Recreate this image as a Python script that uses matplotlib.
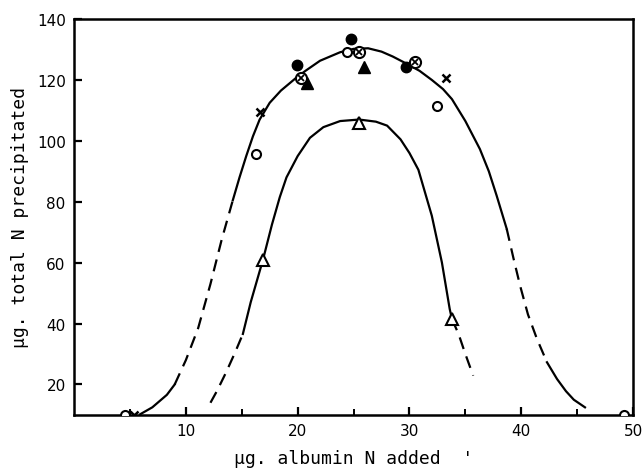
import matplotlib.pyplot as plt

# upper curve (solid / dashed pieces)
up_tail_l_x = [5.9, 7.0, 8.3, 9.0]
up_tail_l_y = [10.2, 12.5, 16.6, 20.0]
up_dash_l_x = [9.0, 10.0, 11.1, 12.2, 13.2, 14.2]
up_dash_l_y = [20.0, 28.0, 38.5, 53.0, 67.5, 80.5]
up_main_x = [14.2, 14.8, 15.4, 16.0, 16.6, 17.5, 18.5, 19.8, 20.7, 22.0, 23.8, 25.0,
             26.3, 27.5, 28.5, 29.5, 30.9, 32.0, 33.0, 33.8, 35.0, 36.3, 37.1, 37.8, 38.7]
up_main_y = [80.5, 88.0, 95.0, 101.5, 107.0, 112.5, 116.5, 120.5, 123.0, 126.3, 129.1, 130.2,
             130.4, 129.3, 127.7, 125.8, 123.0, 120.0, 117.0, 113.7, 106.5, 97.3, 90.0, 82.0, 71.1]
up_dash_r_x = [38.7, 39.3, 39.9, 40.6, 41.4, 42.3]
up_dash_r_y = [71.1, 61.5, 52.4, 43.0, 35.0, 27.3]
up_tail_r_x = [42.3, 43.2, 44.0, 44.7, 45.7]
up_tail_r_y = [27.3, 21.8, 17.8, 15.0, 12.5]

# lower curve
lo_dash_l_x = [12.2, 12.8, 13.6, 14.4, 15.1]
lo_dash_l_y = [14.0, 18.0, 24.0, 30.5, 36.6]
lo_main_x = [15.1, 15.8, 16.9, 17.7, 18.4, 19.0, 20.0, 21.1, 22.3, 23.8, 25.5, 27.0,
             28.0, 29.2, 30.0, 30.8, 32.0, 32.9, 33.6, 33.8]
lo_main_y = [36.6, 47.0, 61.0, 72.5, 81.5, 88.0, 95.0, 101.0, 104.5, 106.5, 107.0, 106.3,
             105.0, 100.5, 96.0, 90.5, 75.4, 60.1, 44.8, 41.5]
lo_dash_r_x = [33.8, 34.4, 35.0, 35.7]
lo_dash_r_y = [41.5, 36.5, 30.0, 22.9]

# points
open_circle_x = [4.6, 16.3, 24.4, 32.5, 49.2]
open_circle_y = [10.0, 95.6, 129.1, 111.3, 10.0]
filled_circle_x = [19.9, 24.8, 29.7]
filled_circle_y = [125.0, 133.4, 124.1]
cross_x = [5.4, 16.6, 33.3]
cross_y = [10.0, 109.4, 120.6]
otimes_x = [20.3, 25.5, 30.5]
otimes_y = [120.5, 129.3, 126.0]
open_tri_x = [16.9, 25.5, 33.8]
open_tri_y = [60.9, 105.8, 41.5]
filled_tri_x = [20.8, 25.9]
filled_tri_y = [119.0, 124.1]

xticks = [10, 20, 30, 40, 50]
yticks = [20, 40, 60, 80, 100, 120, 140]

fig = plt.figure(figsize=(6.44, 4.77), dpi=100)
ax = fig.add_axes([0.115, 0.128, 0.868, 0.83])

lw = 1.6
dash = (0, (5.5, 3.5))
ax.plot(up_tail_l_x, up_tail_l_y, color='black', lw=lw)
ax.plot(up_dash_l_x, up_dash_l_y, color='black', lw=lw, linestyle=dash)
ax.plot(up_main_x, up_main_y, color='black', lw=lw)
ax.plot(up_dash_r_x, up_dash_r_y, color='black', lw=lw, linestyle=dash)
ax.plot(up_tail_r_x, up_tail_r_y, color='black', lw=lw)
ax.plot(lo_dash_l_x, lo_dash_l_y, color='black', lw=lw, linestyle=dash)
ax.plot(lo_main_x, lo_main_y, color='black', lw=lw)
ax.plot(lo_dash_r_x, lo_dash_r_y, color='black', lw=lw, linestyle=dash)

ax.plot(filled_tri_x, filled_tri_y, '^', color='black', ms=8, zorder=3)
ax.plot(open_circle_x, open_circle_y, 'o', mfc='white', mec='black', mew=1.5, ms=6.5, zorder=4)
ax.plot(filled_circle_x, filled_circle_y, 'o', color='black', ms=7.5, zorder=4)
ax.plot(cross_x, cross_y, 'x', color='black', mew=1.8, ms=5.5, zorder=4)
ax.plot(otimes_x, otimes_y, 'o', mfc='white', mec='black', mew=1.5, ms=8, zorder=5)
ax.plot(otimes_x, otimes_y, 'x', color='black', mew=1.3, ms=4.5, zorder=6)
ax.plot(open_tri_x, open_tri_y, '^', mfc='white', mec='black', mew=1.5, ms=8.5, zorder=5)

ax.set_xlim(0, 50)
ax.set_ylim(10, 140)
ax.set_xticks(xticks)
ax.set_xticks([5, 15, 25, 35, 45], minor=True)
ax.set_yticks(yticks)
ax.tick_params(direction='in', length=6, width=1.6, labelsize=11, pad=6)
ax.tick_params(which='minor', direction='in', length=4, width=1.4)
for s in ax.spines.values():
    s.set_linewidth(1.8)

ax.set_xlabel("μg. albumin N added  '", fontsize=13, family='DejaVu Sans Mono', labelpad=8)
ax.set_ylabel('μg. total N precipitated', fontsize=13, family='DejaVu Sans Mono', labelpad=6)

fig.savefig('out.png', dpi=100)
